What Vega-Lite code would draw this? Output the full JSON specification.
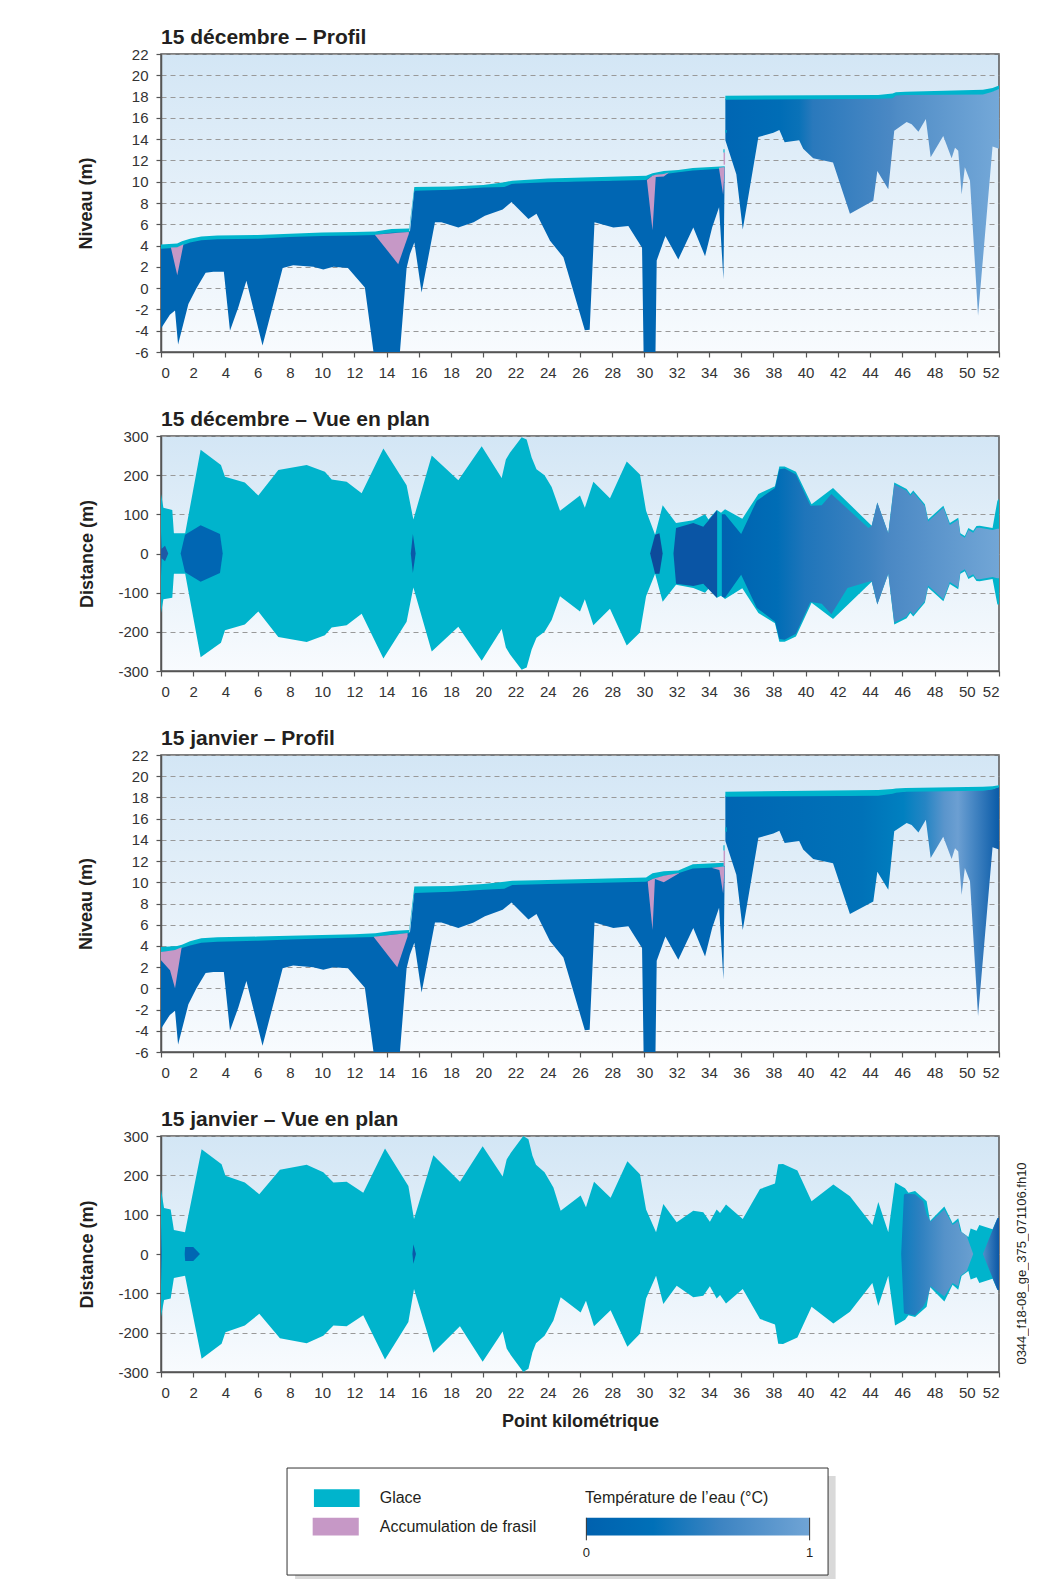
{
"$schema": "https://vega.github.io/schema/vega-lite/v6.json",
"padding": {"left": 76, "top": 26, "right": 0, "bottom": 0},
"background": "#ffffff",
"config": {
 "font": "Liberation Sans",
 "view": {"stroke": "#555555", "strokeWidth": 1.5, "fill": {"gradient": "linear", "x1": 0, "y1": 0, "x2": 0, "y2": 1, "stops": [{"offset": 0, "color": "#d3e6f5"}, {"offset": 1, "color": "#f8fbfe"}]}},
 "axis": {"labelFont": "Liberation Sans", "labelFontSize": 15, "labelColor": "#333333", "labelOverlap": false, "titleFont": "Liberation Sans", "titleFontSize": 18, "titleFontWeight": "bold", "titleColor": "#231f20", "domainColor": "#555555", "domainWidth": 1.5, "tickColor": "#555555", "tickSize": 5, "tickWidth": 1.2, "labelPadding": 8, "zindex": 1},
 "axisX": {"grid": false, "titlePadding": 12},
 "axisY": {"grid": true, "gridColor": "#999999", "gridDash": [5, 4], "gridWidth": 1},
 "title": {"anchor": "start", "frame": "group", "fontSize": 21, "fontWeight": "bold", "color": "#231f20", "offset": -1, "baseline": "alphabetic", "font": "Liberation Sans"}
},
"datasets": {
 "prof": [
  {"km":0,"bed":-3.8,"wd":3.8,"wj":3.5,"s":"A"},
  {"km":0.55,"bed":-2.5,"wd":3.85,"wj":3.6,"s":"A"},
  {"km":0.87,"bed":-2.1,"wd":3.9,"wj":3.65,"s":"A"},
  {"km":1.06,"bed":-5.3,"wd":3.95,"wj":3.75,"s":"A"},
  {"km":1.7,"bed":-1.5,"wd":4.35,"wj":4.15,"s":"A"},
  {"km":2.2,"bed":0,"wd":4.5,"wj":4.3,"s":"A"},
  {"km":2.77,"bed":1.45,"wd":4.65,"wj":4.45,"s":"A"},
  {"km":3.25,"bed":1.55,"wd":4.7,"wj":4.5,"s":"A"},
  {"km":3.9,"bed":1.55,"wd":4.7,"wj":4.55,"s":"A"},
  {"km":4.28,"bed":-4.0,"wd":4.7,"wj":4.55,"s":"A"},
  {"km":4.8,"bed":-1.8,"wd":4.7,"wj":4.6,"s":"A"},
  {"km":5.3,"bed":0.7,"wd":4.75,"wj":4.6,"s":"A"},
  {"km":6.3,"bed":-5.4,"wd":4.75,"wj":4.65,"s":"A"},
  {"km":7.55,"bed":1.9,"wd":4.85,"wj":4.7,"s":"A"},
  {"km":8.2,"bed":2.15,"wd":4.9,"wj":4.7,"s":"A"},
  {"km":9.45,"bed":2.0,"wd":5.0,"wj":4.8,"s":"A"},
  {"km":10.07,"bed":1.75,"wd":5.0,"wj":4.8,"s":"A"},
  {"km":10.7,"bed":2.0,"wd":5.05,"wj":4.85,"s":"A"},
  {"km":11.6,"bed":1.9,"wd":5.05,"wj":4.9,"s":"A"},
  {"km":12.65,"bed":0.05,"wd":5.1,"wj":4.95,"s":"A"},
  {"km":13.25,"bed":-6.7,"wd":5.1,"wj":4.95,"s":"A"},
  {"km":14.8,"bed":-6.5,"wd":5.35,"wj":5.2,"s":"A"},
  {"km":15.24,"bed":1.9,"wd":5.35,"wj":5.3,"s":"A"},
  {"km":15.45,"bed":3.2,"wd":5.35,"wj":5.3,"s":"A"},
  {"km":15.72,"bed":4.3,"wd":9.25,"wj":9.1,"s":"A"},
  {"km":16.17,"bed":-0.4,"wd":9.3,"wj":9.15,"s":"A"},
  {"km":17.0,"bed":6.2,"wd":9.3,"wj":9.15,"s":"A"},
  {"km":17.4,"bed":6.2,"wd":9.3,"wj":9.15,"s":"A"},
  {"km":18.45,"bed":5.7,"wd":9.35,"wj":9.2,"s":"A"},
  {"km":19.4,"bed":6.2,"wd":9.45,"wj":9.3,"s":"A"},
  {"km":20.1,"bed":6.8,"wd":9.55,"wj":9.4,"s":"A"},
  {"km":21.2,"bed":7.4,"wd":9.6,"wj":9.5,"s":"A"},
  {"km":21.75,"bed":8.1,"wd":9.85,"wj":9.8,"s":"A"},
  {"km":22.8,"bed":6.5,"wd":9.95,"wj":9.9,"s":"A"},
  {"km":23.3,"bed":7.0,"wd":10.0,"wj":9.9,"s":"A"},
  {"km":24.14,"bed":4.45,"wd":10.05,"wj":9.95,"s":"A"},
  {"km":24.97,"bed":2.9,"wd":10.05,"wj":9.95,"s":"A"},
  {"km":26.3,"bed":-3.95,"wd":10.1,"wj":10.0,"s":"A"},
  {"km":26.6,"bed":-3.9,"wd":10.1,"wj":10.0,"s":"A"},
  {"km":26.9,"bed":6.2,"wd":10.1,"wj":10.0,"s":"A"},
  {"km":28.07,"bed":5.7,"wd":10.15,"wj":10.05,"s":"A"},
  {"km":29.0,"bed":5.85,"wd":10.2,"wj":10.1,"s":"A"},
  {"km":29.85,"bed":3.8,"wd":10.25,"wj":10.15,"s":"A"},
  {"km":29.95,"bed":-6.5,"wd":10.25,"wj":10.15,"s":"A"},
  {"km":30.68,"bed":-6.5,"wd":10.7,"wj":10.45,"s":"A"},
  {"km":30.76,"bed":2.6,"wd":10.75,"wj":10.5,"s":"A"},
  {"km":31.3,"bed":4.9,"wd":10.85,"wj":10.75,"s":"A"},
  {"km":32.1,"bed":2.7,"wd":11.0,"wj":10.95,"s":"A"},
  {"km":33.03,"bed":5.7,"wd":11.15,"wj":11.4,"s":"A"},
  {"km":33.76,"bed":3.0,"wd":11.2,"wj":11.45,"s":"A"},
  {"km":34.2,"bed":5.7,"wd":11.25,"wj":11.5,"s":"A"},
  {"km":34.63,"bed":7.6,"wd":11.3,"wj":11.5,"s":"A"},
  {"km":34.9,"bed":0.84,"wd":11.35,"wj":11.55,"s":"A"},
  {"km":34.98,"bed":11.3,"wd":11.35,"wj":11.55,"s":"A"},
  {"km":35.02,"bed":13.9,"wd":17.8,"wj":18.15,"s":"B"},
  {"km":35.7,"bed":10.7,"wd":17.8,"wj":18.15,"s":"B"},
  {"km":36.1,"bed":5.5,"wd":17.8,"wj":18.15,"s":"B"},
  {"km":37.07,"bed":14.2,"wd":17.8,"wj":18.15,"s":"B"},
  {"km":38.0,"bed":14.6,"wd":17.8,"wj":18.15,"s":"B"},
  {"km":38.37,"bed":14.85,"wd":17.8,"wj":18.15,"s":"B"},
  {"km":38.7,"bed":13.7,"wd":17.8,"wj":18.15,"s":"B"},
  {"km":39.6,"bed":13.9,"wd":17.8,"wj":18.15,"s":"B"},
  {"km":39.85,"bed":13.1,"wd":17.8,"wj":18.15,"s":"B"},
  {"km":40.47,"bed":12.2,"wd":17.8,"wj":18.15,"s":"B"},
  {"km":41.7,"bed":11.8,"wd":17.85,"wj":18.2,"s":"B"},
  {"km":42.75,"bed":7.0,"wd":17.85,"wj":18.2,"s":"B"},
  {"km":44.2,"bed":8.2,"wd":17.9,"wj":18.25,"s":"B"},
  {"km":44.45,"bed":11.0,"wd":17.9,"wj":18.25,"s":"B"},
  {"km":45.13,"bed":9.3,"wd":17.95,"wj":18.35,"s":"B"},
  {"km":45.5,"bed":14.8,"wd":18.2,"wj":18.5,"s":"B"},
  {"km":46.27,"bed":15.6,"wd":18.25,"wj":18.6,"s":"B"},
  {"km":46.58,"bed":15.4,"wd":18.25,"wj":18.6,"s":"B"},
  {"km":47.0,"bed":14.7,"wd":18.25,"wj":18.62,"s":"B"},
  {"km":47.46,"bed":15.9,"wd":18.25,"wj":18.62,"s":"B"},
  {"km":47.76,"bed":12.3,"wd":18.25,"wj":18.63,"s":"B"},
  {"km":48.54,"bed":14.3,"wd":18.27,"wj":18.64,"s":"B"},
  {"km":49.06,"bed":12.2,"wd":18.28,"wj":18.65,"s":"B"},
  {"km":49.27,"bed":13.2,"wd":18.28,"wj":18.65,"s":"B"},
  {"km":49.47,"bed":12.9,"wd":18.28,"wj":18.65,"s":"B"},
  {"km":49.68,"bed":8.8,"wd":18.28,"wj":18.66,"s":"B"},
  {"km":49.88,"bed":11.35,"wd":18.28,"wj":18.66,"s":"B"},
  {"km":50.2,"bed":10.1,"wd":18.29,"wj":18.67,"s":"B"},
  {"km":50.7,"bed":-2.6,"wd":18.3,"wj":18.7,"s":"B"},
  {"km":51.6,"bed":13.3,"wd":18.5,"wj":18.8,"s":"B"},
  {"km":52.0,"bed":13.1,"wd":18.75,"wj":19.0,"s":"B"}
 ],
 "ice": [
  {"km":0,"dib":3.7,"dit":4.1,"jib":3.4,"jit":3.9},
  {"km":1.0,"dib":3.8,"dit":4.2,"jib":3.6,"jit":4.0},
  {"km":1.3,"dib":4.0,"dit":4.4,"jib":3.8,"jit":4.1},
  {"km":1.8,"dib":4.3,"dit":4.65,"jib":4.05,"jit":4.45},
  {"km":2.5,"dib":4.5,"dit":4.85,"jib":4.3,"jit":4.72},
  {"km":3.5,"dib":4.6,"dit":4.95,"jib":4.4,"jit":4.82},
  {"km":6.0,"dib":4.65,"dit":5.0,"jib":4.5,"jit":4.88},
  {"km":8.0,"dib":4.8,"dit":5.12,"jib":4.6,"jit":4.95},
  {"km":10.0,"dib":4.9,"dit":5.22,"jib":4.7,"jit":5.02},
  {"km":12.0,"dib":4.95,"dit":5.28,"jib":4.8,"jit":5.1},
  {"km":13.3,"dib":5.0,"dit":5.33,"jib":4.85,"jit":5.2},
  {"km":14.3,"dib":5.2,"dit":5.55,"jib":5.05,"jit":5.4},
  {"km":15.4,"dib":5.25,"dit":5.6,"jib":5.2,"jit":5.5},
  {"km":15.72,"dib":9.15,"dit":9.5,"jib":9.0,"jit":9.6},
  {"km":18.0,"dib":9.25,"dit":9.55,"jib":9.1,"jit":9.65},
  {"km":20.0,"dib":9.45,"dit":9.7,"jib":9.3,"jit":9.85},
  {"km":21.3,"dib":9.5,"dit":9.95,"jib":9.4,"jit":10.05},
  {"km":21.8,"dib":9.8,"dit":10.1,"jib":9.75,"jit":10.15},
  {"km":24.0,"dib":9.95,"dit":10.3,"jib":9.85,"jit":10.22},
  {"km":30.1,"dib":10.15,"dit":10.55,"jib":10.05,"jit":10.45},
  {"km":30.5,"dib":10.55,"dit":10.8,"jib":10.3,"jit":10.85},
  {"km":31.2,"dib":10.7,"dit":11.0,"jib":10.6,"jit":11.05},
  {"km":32.1,"dib":10.9,"dit":11.1,"jib":10.85,"jit":11.1},
  {"km":33.0,"dib":11.05,"dit":11.3,"jib":11.3,"jit":11.7},
  {"km":34.98,"dib":11.25,"dit":11.45,"jib":11.45,"jit":11.85},
  {"km":35.02,"dib":17.7,"dit":18.08,"jib":18.07,"jit":18.54},
  {"km":44.5,"dib":17.8,"dit":18.15,"jib":18.15,"jit":18.7},
  {"km":45.4,"dib":17.85,"dit":18.3,"jib":18.35,"jit":18.8},
  {"km":45.6,"dib":18.1,"dit":18.4,"jib":18.45,"jit":18.85},
  {"km":46.2,"dib":18.15,"dit":18.45,"jib":18.54,"jit":18.9},
  {"km":51.0,"dib":18.2,"dit":18.65,"jib":18.63,"jit":19.0},
  {"km":51.6,"dib":18.45,"dit":18.8,"jib":18.75,"jit":19.05},
  {"km":52.0,"dib":18.7,"dit":19.05,"jib":18.95,"jit":19.15}
 ],
 "fra": [
  {"d":"D","g":"1","km":0.62,"lo":3.78,"hi":3.82},
  {"d":"D","g":"1","km":1.01,"lo":1.2,"hi":3.85},
  {"d":"D","g":"1","km":1.39,"lo":4.1,"hi":4.12},
  {"d":"D","g":"2","km":13.28,"lo":5.0,"hi":5.02},
  {"d":"D","g":"2","km":14.72,"lo":2.25,"hi":5.2},
  {"d":"D","g":"2","km":15.38,"lo":5.1,"hi":5.27},
  {"d":"D","g":"3","km":30.15,"lo":10.15,"hi":10.17},
  {"d":"D","g":"3","km":30.5,"lo":5.45,"hi":10.55},
  {"d":"D","g":"3","km":30.7,"lo":10.45,"hi":10.65},
  {"d":"D","g":"3","km":31.2,"lo":10.5,"hi":10.72},
  {"d":"D","g":"3","km":31.5,"lo":10.85,"hi":10.87},
  {"d":"D","g":"4","km":34.62,"lo":11.3,"hi":11.32},
  {"d":"D","g":"4","km":34.88,"lo":8.8,"hi":11.35},
  {"d":"D","g":"4","km":34.97,"lo":11.2,"hi":11.36},
  {"d":"D","g":"5","km":34.91,"lo":11.6,"hi":12.75},
  {"d":"D","g":"5","km":35.0,"lo":11.6,"hi":12.75},
  {"d":"J","g":"1","km":0.0,"lo":2.65,"hi":3.42},
  {"d":"J","g":"1","km":0.56,"lo":1.7,"hi":3.55},
  {"d":"J","g":"1","km":0.87,"lo":0.0,"hi":3.62},
  {"d":"J","g":"1","km":1.28,"lo":3.85,"hi":3.88},
  {"d":"J","g":"2","km":13.2,"lo":4.85,"hi":4.87},
  {"d":"J","g":"2","km":14.66,"lo":2.0,"hi":5.1},
  {"d":"J","g":"2","km":15.3,"lo":4.9,"hi":5.22},
  {"d":"J","g":"3","km":30.2,"lo":10.05,"hi":10.07},
  {"d":"J","g":"3","km":30.5,"lo":5.5,"hi":10.3},
  {"d":"J","g":"3","km":30.65,"lo":10.3,"hi":10.37},
  {"d":"J","g":"3","km":31.2,"lo":10.0,"hi":10.62},
  {"d":"J","g":"3","km":32.15,"lo":10.85,"hi":10.88},
  {"d":"J","g":"4","km":34.2,"lo":11.35,"hi":11.37},
  {"d":"J","g":"4","km":34.65,"lo":11.15,"hi":11.45},
  {"d":"J","g":"4","km":34.88,"lo":8.95,"hi":11.5},
  {"d":"J","g":"4","km":34.97,"lo":11.4,"hi":11.5},
  {"d":"J","g":"5","km":34.91,"lo":11.55,"hi":13.0},
  {"d":"J","g":"5","km":35.0,"lo":11.55,"hi":13.0}
 ],
 "bits": [
  {"d":"D","g":"c1","km":34.9,"lo":12.75,"hi":13.05},
  {"d":"D","g":"c1","km":34.97,"lo":12.75,"hi":13.05},
  {"d":"D","g":"c2","km":35.02,"lo":14.6,"hi":14.85},
  {"d":"D","g":"c2","km":35.1,"lo":14.6,"hi":14.85},
  {"d":"J","g":"c1","km":34.9,"lo":13.0,"hi":13.5},
  {"d":"J","g":"c1","km":34.97,"lo":13.0,"hi":13.5},
  {"d":"J","g":"c2","km":35.02,"lo":14.76,"hi":15.2},
  {"d":"J","g":"c2","km":35.1,"lo":14.76,"hi":15.2}
 ],
 "pd": [
  {"km":0.0,"t":152,"b":-152},{"km":0.15,"t":117,"b":-117},{"km":0.7,"t":111,"b":-113},{"km":0.8,"t":52,"b":-52},
  {"km":1.5,"t":52,"b":-52},{"km":2.46,"t":265,"b":-265},{"km":3.72,"t":226,"b":-228},{"km":3.97,"t":196,"b":-196},
  {"km":5.2,"t":181,"b":-181},{"km":6.04,"t":148,"b":-148},{"km":7.28,"t":213,"b":-213},{"km":9.04,"t":226,"b":-226},
  {"km":10.17,"t":209,"b":-209},{"km":10.59,"t":189,"b":-189},{"km":11.52,"t":183,"b":-183},{"km":12.45,"t":154,"b":-154},
  {"km":13.8,"t":268,"b":-268},{"km":15.24,"t":174,"b":-174},{"km":15.66,"t":87,"b":-87},{"km":16.8,"t":250,"b":-250},
  {"km":18.45,"t":187,"b":-187},{"km":19.9,"t":274,"b":-274},{"km":21.14,"t":193,"b":-193},{"km":21.4,"t":240,"b":-240},
  {"km":21.65,"t":257,"b":-257},{"km":22.38,"t":297,"b":-297},{"km":22.69,"t":291,"b":-291},{"km":23.0,"t":245,"b":-245},
  {"km":23.3,"t":215,"b":-215},{"km":23.8,"t":200,"b":-200},{"km":24.24,"t":170,"b":-170},{"km":24.5,"t":140,"b":-140},
  {"km":24.76,"t":109,"b":-109},{"km":26.0,"t":148,"b":-148},{"km":26.3,"t":117,"b":-117},{"km":26.83,"t":183,"b":-183},
  {"km":27.86,"t":141,"b":-141},{"km":28.9,"t":235,"b":-235},{"km":29.72,"t":202,"b":-202},{"km":30.1,"t":109,"b":-109},
  {"km":30.66,"t":48,"b":-52},{"km":31.13,"t":123,"b":-123},{"km":31.96,"t":78,"b":-80},{"km":33.03,"t":85,"b":-88},
  {"km":33.76,"t":100,"b":-100},{"km":33.97,"t":87,"b":-90},{"km":34.49,"t":111,"b":-113},{"km":34.75,"t":104,"b":-108},
  {"km":35.0,"t":113,"b":-116},{"km":36.07,"t":89,"b":-89},{"km":37.07,"t":152,"b":-152},{"km":38.1,"t":172,"b":-178},
  {"km":38.37,"t":222,"b":-225},{"km":38.7,"t":222,"b":-225},{"km":39.4,"t":209,"b":-212},{"km":40.37,"t":126,"b":-126},
  {"km":41.7,"t":167,"b":-167},{"km":44.1,"t":71,"b":-72},{"km":44.45,"t":130,"b":-130},{"km":45.13,"t":52,"b":-52},
  {"km":45.5,"t":181,"b":-181},{"km":46.27,"t":165,"b":-165},{"km":46.5,"t":152,"b":-152},{"km":46.68,"t":161,"b":-161},
  {"km":47.4,"t":126,"b":-126},{"km":47.6,"t":87,"b":-87},{"km":48.55,"t":122,"b":-122},{"km":48.95,"t":78,"b":-78},
  {"km":49.47,"t":91,"b":-91},{"km":49.6,"t":52,"b":-52},{"km":49.88,"t":45,"b":-45},{"km":50.1,"t":65,"b":-65},
  {"km":50.4,"t":58,"b":-58},{"km":50.6,"t":70,"b":-70},{"km":50.8,"t":71,"b":-71},{"km":51.6,"t":65,"b":-65},
  {"km":51.9,"t":135,"b":-130},{"km":52.0,"t":139,"b":-130}
 ],
 "pj": [
  {"km":0.0,"t":164,"b":-160},{"km":0.19,"t":117,"b":-117},{"km":0.6,"t":113,"b":-113},{"km":0.8,"t":61,"b":-61},
  {"km":1.49,"t":55,"b":-55},{"km":2.52,"t":266,"b":-266},{"km":3.76,"t":228,"b":-228},{"km":4.0,"t":199,"b":-199},
  {"km":5.2,"t":182,"b":-182},{"km":6.1,"t":152,"b":-152},{"km":7.38,"t":214,"b":-214},{"km":9.04,"t":227,"b":-227},
  {"km":10.07,"t":208,"b":-208},{"km":10.7,"t":182,"b":-182},{"km":11.52,"t":184,"b":-184},{"km":12.55,"t":156,"b":-156},
  {"km":13.9,"t":268,"b":-268},{"km":15.35,"t":173,"b":-173},{"km":15.7,"t":89,"b":-89},{"km":16.9,"t":251,"b":-251},
  {"km":18.55,"t":184,"b":-184},{"km":19.96,"t":274,"b":-274},{"km":21.2,"t":197,"b":-197},{"km":21.45,"t":240,"b":-240},
  {"km":21.7,"t":257,"b":-257},{"km":22.48,"t":300,"b":-300},{"km":22.8,"t":292,"b":-292},{"km":23.05,"t":250,"b":-250},
  {"km":23.27,"t":227,"b":-227},{"km":23.8,"t":208,"b":-208},{"km":24.35,"t":169,"b":-169},{"km":24.8,"t":110,"b":-110},
  {"km":26.04,"t":149,"b":-149},{"km":26.37,"t":119,"b":-119},{"km":26.87,"t":184,"b":-184},{"km":27.9,"t":143,"b":-143},
  {"km":28.94,"t":236,"b":-236},{"km":29.72,"t":203,"b":-203},{"km":30.1,"t":113,"b":-113},{"km":30.72,"t":55,"b":-55},
  {"km":31.17,"t":127,"b":-127},{"km":32.0,"t":81,"b":-81},{"km":33.03,"t":110,"b":-110},{"km":33.65,"t":106,"b":-106},
  {"km":34.06,"t":82,"b":-82},{"km":34.48,"t":113,"b":-113},{"km":34.69,"t":104,"b":-104},{"km":35.06,"t":126,"b":-126},
  {"km":36.1,"t":89,"b":-89},{"km":37.17,"t":165,"b":-165},{"km":38.1,"t":179,"b":-179},{"km":38.3,"t":228,"b":-228},
  {"km":38.6,"t":229,"b":-229},{"km":39.49,"t":212,"b":-212},{"km":40.37,"t":134,"b":-134},{"km":41.72,"t":177,"b":-177},
  {"km":42.75,"t":147,"b":-147},{"km":44.14,"t":74,"b":-74},{"km":44.51,"t":132,"b":-132},{"km":45.13,"t":55,"b":-55},
  {"km":45.55,"t":182,"b":-182},{"km":46.17,"t":167,"b":-167},{"km":46.38,"t":156,"b":-156},{"km":46.79,"t":160,"b":-160},
  {"km":47.51,"t":134,"b":-134},{"km":47.72,"t":84,"b":-84},{"km":48.61,"t":121,"b":-121},{"km":49.12,"t":78,"b":-78},
  {"km":49.47,"t":91,"b":-91},{"km":49.68,"t":56,"b":-56},{"km":50.1,"t":43,"b":-43},{"km":50.24,"t":65,"b":-65},
  {"km":50.61,"t":59,"b":-59},{"km":50.78,"t":74,"b":-74},{"km":51.6,"t":63,"b":-63},{"km":51.9,"t":91,"b":-91},
  {"km":52.0,"t":92,"b":-92}
 ],
 "wpd": [
  {"g":"w1","km":0.0,"t":55,"b":-58},{"g":"w1","km":0.04,"t":12,"b":-12},{"g":"w1","km":0.25,"t":20,"b":-20},{"g":"w1","km":0.45,"t":0,"b":0},
  {"g":"w2","km":1.22,"t":0,"b":0},{"g":"w2","km":1.49,"t":48,"b":-48},{"g":"w2","km":2.46,"t":72,"b":-72},{"g":"w2","km":3.66,"t":50,"b":-50},{"g":"w2","km":3.83,"t":0,"b":0},
  {"g":"w3","km":15.5,"t":0,"b":0},{"g":"w3","km":15.63,"t":50,"b":-50},{"g":"w3","km":15.8,"t":0,"b":0},
  {"g":"w4","km":30.35,"t":0,"b":0},{"g":"w4","km":30.66,"t":48,"b":-52},{"g":"w4","km":30.93,"t":52,"b":-52},{"g":"w4","km":31.13,"t":0,"b":0},
  {"g":"w5","km":31.8,"t":0,"b":0},{"g":"w5","km":31.96,"t":65,"b":-77},{"g":"w5","km":33.03,"t":78,"b":-83},{"g":"w5","km":33.65,"t":68,"b":-77},{"g":"w5","km":34.49,"t":110,"b":-113},{"g":"w5","km":34.51,"t":110,"b":-113},
  {"g":"w6","km":34.8,"t":100,"b":-110},{"g":"w6","km":35.0,"t":100,"b":-113},{"g":"w6","km":36.0,"t":50,"b":-54},{"g":"w6","km":36.97,"t":135,"b":-139},
  {"g":"w6","km":38.1,"t":167,"b":-174},{"g":"w6","km":38.37,"t":215,"b":-218},{"g":"w6","km":38.7,"t":217,"b":-220},{"g":"w6","km":39.4,"t":202,"b":-205},
  {"g":"w6","km":40.3,"t":122,"b":-124},{"g":"w6","km":41.0,"t":123,"b":-128},{"g":"w6","km":41.6,"t":152,"b":-155},{"g":"w6","km":42.6,"t":114,"b":-88},
  {"g":"w6","km":43.9,"t":65,"b":-72},{"g":"w6","km":44.1,"t":71,"b":-71},{"g":"w6","km":44.45,"t":130,"b":-130},{"g":"w6","km":45.13,"t":52,"b":-52},
  {"g":"w6","km":45.5,"t":176,"b":-176},{"g":"w6","km":46.27,"t":160,"b":-160},{"g":"w6","km":46.5,"t":147,"b":-147},{"g":"w6","km":46.68,"t":156,"b":-156},
  {"g":"w6","km":47.4,"t":121,"b":-121},{"g":"w6","km":47.6,"t":82,"b":-82},{"g":"w6","km":48.55,"t":117,"b":-117},{"g":"w6","km":48.95,"t":73,"b":-73},
  {"g":"w6","km":49.47,"t":86,"b":-86},{"g":"w6","km":49.6,"t":47,"b":-47},{"g":"w6","km":49.88,"t":40,"b":-40},{"g":"w6","km":50.1,"t":60,"b":-60},
  {"g":"w6","km":50.4,"t":53,"b":-53},{"g":"w6","km":50.6,"t":65,"b":-65},{"g":"w6","km":50.8,"t":66,"b":-66},{"g":"w6","km":51.6,"t":60,"b":-60},
  {"g":"w6","km":51.9,"t":63,"b":-63},{"g":"w6","km":52.0,"t":63,"b":-63}
 ],
 "wpj": [
  {"g":"j1","km":0.0,"t":78,"b":-78},{"g":"j1","km":0.04,"t":8,"b":-8},
  {"g":"j2","km":1.47,"t":0,"b":0},{"g":"j2","km":1.5,"t":18,"b":-18},{"g":"j2","km":2.0,"t":18,"b":-18},{"g":"j2","km":2.42,"t":0,"b":0},
  {"g":"j3","km":15.6,"t":0,"b":0},{"g":"j3","km":15.66,"t":25,"b":-25},{"g":"j3","km":15.82,"t":0,"b":0},
  {"g":"j4","km":45.93,"t":0,"b":0},{"g":"j4","km":46.1,"t":150,"b":-150},{"g":"j4","km":46.17,"t":153,"b":-152},{"g":"j4","km":46.79,"t":152,"b":-156},
  {"g":"j4","km":47.3,"t":134,"b":-134},{"g":"j4","km":47.51,"t":100,"b":-117},{"g":"j4","km":47.76,"t":82,"b":-82},{"g":"j4","km":48.61,"t":113,"b":-108},
  {"g":"j4","km":49.12,"t":74,"b":-74},{"g":"j4","km":49.47,"t":84,"b":-82},{"g":"j4","km":49.6,"t":58,"b":-56},{"g":"j4","km":50.0,"t":46,"b":-43},
  {"g":"j4","km":50.4,"t":0,"b":0},
  {"g":"j5","km":51.0,"t":0,"b":0},{"g":"j5","km":51.9,"t":91,"b":-91},{"g":"j5","km":52.0,"t":92,"b":-92}
 ]
},
"bounds": "flush",
"spacing": 84,
"vconcat": [
 {
  "width": 838, "height": 298,
  "title": {"text": "15 décembre – Profil"},
  "resolve": {"axis": {"x": "independent", "y": "independent"}},
  "layer": [
   {"data": {"name": "prof"}, "transform": [{"filter": "datum.s === 'A'"}],
    "mark": {"type": "area", "orient": "vertical", "clip": true, "color": "#0066b3"},
    "encoding": {
     "x": {"field": "km", "type": "quantitative", "scale": {"domain": [0, 52], "nice": false, "zero": false}, "axis": {"values": [0,2,4,6,8,10,12,14,16,18,20,22,24,26,28,30,32,34,36,38,40,42,44,46,48,50,52], "labelExpr": "'' + datum.value", "labelOverlap": false, "title": null}},
     "y": {"field": "bed", "type": "quantitative", "scale": {"domain": [-6, 22], "nice": false, "zero": false}, "axis": {"values": [-6,-4,-2,0,2,4,6,8,10,12,14,16,18,20,22], "labelExpr": "'' + datum.value", "labelOverlap": false, "titlePadding": 36, "title": "Niveau (m)"}},
     "y2": {"field": "wd"}}},
   {"data": {"name": "prof"}, "transform": [{"filter": "datum.s === 'B'"}],
    "mark": {"type": "area", "orient": "vertical", "clip": true, "color": {"gradient": "linear", "x1": 0, "y1": 0, "x2": 1, "y2": 0, "stops": [{"offset": 0, "color": "#0066b3"}, {"offset": 0.2, "color": "#006db6"}, {"offset": 0.27, "color": "#0a72b8"}, {"offset": 0.32, "color": "#2a79bc"}, {"offset": 0.6, "color": "#4a88c4"}, {"offset": 0.63, "color": "#4f8cc6"}, {"offset": 1, "color": "#74a8d8"}]}},
    "encoding": {"x": {"field": "km", "type": "quantitative", "axis": null}, "y": {"field": "bed", "type": "quantitative", "axis": null}, "y2": {"field": "wd"}}},
   {"data": {"name": "ice"},
    "mark": {"type": "area", "orient": "vertical", "color": "#00b4cc"},
    "encoding": {"x": {"field": "km", "type": "quantitative", "axis": null}, "y": {"field": "dib", "type": "quantitative", "axis": null}, "y2": {"field": "dit"}}},
   {"data": {"name": "fra"}, "transform": [{"filter": "datum.d === 'D'"}],
    "mark": {"type": "area", "orient": "vertical", "color": "#c698c6"},
    "encoding": {"x": {"field": "km", "type": "quantitative", "axis": null}, "y": {"field": "lo", "type": "quantitative", "axis": null}, "y2": {"field": "hi"}, "detail": {"field": "g"}}},
   {"data": {"name": "bits"}, "transform": [{"filter": "datum.d === 'D'"}],
    "mark": {"type": "area", "orient": "vertical", "color": "#00b4cc"},
    "encoding": {"x": {"field": "km", "type": "quantitative", "axis": null}, "y": {"field": "lo", "type": "quantitative", "axis": null}, "y2": {"field": "hi"}, "detail": {"field": "g"}}}
  ]
 },
 {
  "width": 838, "height": 235,
  "title": {"text": "15 décembre – Vue en plan"},
  "resolve": {"axis": {"x": "independent", "y": "independent"}},
  "layer": [
   {"data": {"name": "pd"},
    "mark": {"type": "area", "orient": "vertical", "color": "#00b4cc"},
    "encoding": {
     "x": {"field": "km", "type": "quantitative", "scale": {"domain": [0, 52], "nice": false, "zero": false}, "axis": {"values": [0,2,4,6,8,10,12,14,16,18,20,22,24,26,28,30,32,34,36,38,40,42,44,46,48,50,52], "labelExpr": "'' + datum.value", "labelOverlap": false, "title": null}},
     "y": {"field": "b", "type": "quantitative", "scale": {"domain": [-300, 300], "nice": false, "zero": false}, "axis": {"values": [-300,-200,-100,0,100,200,300], "labelExpr": "'' + datum.value", "labelOverlap": false, "titlePadding": 21, "title": "Distance (m)"}},
     "y2": {"field": "t"}}},
   {"data": {"name": "wpd"}, "transform": [{"filter": "datum.g !== 'w6'"}],
    "mark": {"type": "area", "orient": "vertical"},
    "encoding": {"x": {"field": "km", "type": "quantitative", "axis": null}, "y": {"field": "b", "type": "quantitative", "axis": null}, "y2": {"field": "t"},
     "color": {"field": "g", "type": "nominal", "scale": {"domain": ["w1","w2","w3","w4","w5"], "range": ["#1f5aa6","#0066b3","#0b58a8","#0d4b9b","#0a55a5"]}, "legend": null}}},
   {"data": {"name": "wpd"}, "transform": [{"filter": "datum.g === 'w6'"}],
    "mark": {"type": "area", "orient": "vertical", "color": {"gradient": "linear", "x1": 0, "y1": 0, "x2": 1, "y2": 0, "stops": [{"offset": 0, "color": "#0062b0"}, {"offset": 0.2, "color": "#006db6"}, {"offset": 0.3, "color": "#1f75ba"}, {"offset": 0.53, "color": "#3d82c0"}, {"offset": 0.6, "color": "#4a88c4"}, {"offset": 1, "color": "#72a6d6"}]}},
    "encoding": {"x": {"field": "km", "type": "quantitative", "axis": null}, "y": {"field": "b", "type": "quantitative", "axis": null}, "y2": {"field": "t"}}}
  ]
 },
 {
  "width": 838, "height": 297,
  "title": {"text": "15 janvier – Profil"},
  "resolve": {"axis": {"x": "independent", "y": "independent"}},
  "layer": [
   {"data": {"name": "prof"}, "transform": [{"filter": "datum.s === 'A'"}],
    "mark": {"type": "area", "orient": "vertical", "clip": true, "color": "#0066b3"},
    "encoding": {
     "x": {"field": "km", "type": "quantitative", "scale": {"domain": [0, 52], "nice": false, "zero": false}, "axis": {"values": [0,2,4,6,8,10,12,14,16,18,20,22,24,26,28,30,32,34,36,38,40,42,44,46,48,50,52], "labelExpr": "'' + datum.value", "labelOverlap": false, "title": null}},
     "y": {"field": "bed", "type": "quantitative", "scale": {"domain": [-6, 22], "nice": false, "zero": false}, "axis": {"values": [-6,-4,-2,0,2,4,6,8,10,12,14,16,18,20,22], "labelExpr": "'' + datum.value", "labelOverlap": false, "titlePadding": 36, "title": "Niveau (m)"}},
     "y2": {"field": "wj"}}},
   {"data": {"name": "prof"}, "transform": [{"filter": "datum.s === 'B'"}],
    "mark": {"type": "area", "orient": "vertical", "clip": true, "color": {"gradient": "linear", "x1": 0, "y1": 0, "x2": 1, "y2": 0, "stops": [{"offset": 0, "color": "#0066b3"}, {"offset": 0.5, "color": "#0072b8"}, {"offset": 0.65, "color": "#0080c0"}, {"offset": 0.73, "color": "#2585c4"}, {"offset": 0.8, "color": "#5a95cc"}, {"offset": 0.85, "color": "#6c9fd2"}, {"offset": 0.9, "color": "#4a89c5"}, {"offset": 1, "color": "#0a5ba8"}]}},
    "encoding": {"x": {"field": "km", "type": "quantitative", "axis": null}, "y": {"field": "bed", "type": "quantitative", "axis": null}, "y2": {"field": "wj"}}},
   {"data": {"name": "ice"},
    "mark": {"type": "area", "orient": "vertical", "color": "#00b4cc"},
    "encoding": {"x": {"field": "km", "type": "quantitative", "axis": null}, "y": {"field": "jib", "type": "quantitative", "axis": null}, "y2": {"field": "jit"}}},
   {"data": {"name": "fra"}, "transform": [{"filter": "datum.d === 'J'"}],
    "mark": {"type": "area", "orient": "vertical", "color": "#c698c6"},
    "encoding": {"x": {"field": "km", "type": "quantitative", "axis": null}, "y": {"field": "lo", "type": "quantitative", "axis": null}, "y2": {"field": "hi"}, "detail": {"field": "g"}}},
   {"data": {"name": "bits"}, "transform": [{"filter": "datum.d === 'J'"}],
    "mark": {"type": "area", "orient": "vertical", "color": "#00b4cc"},
    "encoding": {"x": {"field": "km", "type": "quantitative", "axis": null}, "y": {"field": "lo", "type": "quantitative", "axis": null}, "y2": {"field": "hi"}, "detail": {"field": "g"}}}
  ]
 },
 {
  "width": 838, "height": 236,
  "title": {"text": "15 janvier – Vue en plan"},
  "resolve": {"axis": {"x": "independent", "y": "independent"}},
  "layer": [
   {"data": {"name": "pj"},
    "mark": {"type": "area", "orient": "vertical", "color": "#00b4cc"},
    "encoding": {
     "x": {"field": "km", "type": "quantitative", "scale": {"domain": [0, 52], "nice": false, "zero": false}, "axis": {"values": [0,2,4,6,8,10,12,14,16,18,20,22,24,26,28,30,32,34,36,38,40,42,44,46,48,50,52], "labelExpr": "'' + datum.value", "labelOverlap": false, "title": "Point kilométrique"}},
     "y": {"field": "b", "type": "quantitative", "scale": {"domain": [-300, 300], "nice": false, "zero": false}, "axis": {"values": [-300,-200,-100,0,100,200,300], "labelExpr": "'' + datum.value", "labelOverlap": false, "titlePadding": 21, "title": "Distance (m)"}},
     "y2": {"field": "t"}}},
   {"data": {"name": "wpj"}, "transform": [{"filter": "datum.g === 'j1' || datum.g === 'j2' || datum.g === 'j3'"}],
    "mark": {"type": "area", "orient": "vertical"},
    "encoding": {"x": {"field": "km", "type": "quantitative", "axis": null},
     "y": {"field": "b", "type": "quantitative", "axis": {"orient": "right", "title": "0344_f18-08_ge_375_071106.fh10", "labels": false, "ticks": false, "domain": false, "grid": false, "titleAngle": 270, "titleFontSize": 13, "titleFontWeight": "normal", "titleColor": "#231f20", "titlePadding": 29, "titleY": 127}},
     "y2": {"field": "t"},
     "color": {"field": "g", "type": "nominal", "scale": {"domain": ["j1","j2","j3"], "range": ["#1a4f9f","#0066b3","#1e5ca8"]}, "legend": null}}},
   {"data": {"name": "wpj"}, "transform": [{"filter": "datum.g === 'j4'"}],
    "mark": {"type": "area", "orient": "vertical", "color": {"gradient": "linear", "x1": 0, "y1": 0, "x2": 1, "y2": 0, "stops": [{"offset": 0, "color": "#0b7dbf"}, {"offset": 0.25, "color": "#2c80c0"}, {"offset": 0.6, "color": "#5592c9"}, {"offset": 1, "color": "#6a9fd0"}]}},
    "encoding": {"x": {"field": "km", "type": "quantitative", "axis": null}, "y": {"field": "b", "type": "quantitative", "axis": null}, "y2": {"field": "t"}}},
   {"data": {"name": "wpj"}, "transform": [{"filter": "datum.g === 'j5'"}],
    "mark": {"type": "area", "orient": "vertical", "color": {"gradient": "linear", "x1": 0, "y1": 0, "x2": 1, "y2": 0, "stops": [{"offset": 0, "color": "#4f8fc8"}, {"offset": 1, "color": "#0b57a6"}]}},
    "encoding": {"x": {"field": "km", "type": "quantitative", "axis": null}, "y": {"field": "b", "type": "quantitative", "axis": null}, "y2": {"field": "t"}}}
  ]
 },
 {
  "width": 838, "height": 124,
  "view": {"stroke": null, "fill": null},
  "data": {"values": [{}]},
  "layer": [
   {"mark": {"type": "rect", "color": "#d9d9d9"},
    "encoding": {"x": {"datum": 16.0, "type": "quantitative", "scale": {"domain": [0, 100], "nice": false}, "axis": null}, "x2": {"datum": 80.5},
     "y": {"datum": 83.9, "type": "quantitative", "scale": {"domain": [0, 100], "nice": false}, "axis": null}, "y2": {"datum": 0.8}}},
   {"mark": {"type": "rect", "fill": "#ffffff", "stroke": "#333333", "strokeWidth": 1},
    "encoding": {"x": {"datum": 15.04, "type": "quantitative"}, "x2": {"datum": 79.6}, "y": {"datum": 90.3, "type": "quantitative"}, "y2": {"datum": 4.0}}},
   {"mark": {"type": "rect", "color": "#00b4cc"},
    "encoding": {"x": {"datum": 18.25, "type": "quantitative"}, "x2": {"datum": 23.7}, "y": {"datum": 73.2, "type": "quantitative"}, "y2": {"datum": 58.8}}},
   {"mark": {"type": "rect", "color": "#c698c6"},
    "encoding": {"x": {"datum": 18.1, "type": "quantitative"}, "x2": {"datum": 23.6}, "y": {"datum": 50.2, "type": "quantitative"}, "y2": {"datum": 35.8}}},
   {"mark": {"type": "rect", "color": {"gradient": "linear", "x1": 0, "y1": 0, "x2": 1, "y2": 0, "stops": [{"offset": 0, "color": "#0061ae"}, {"offset": 0.3, "color": "#0070b8"}, {"offset": 0.6, "color": "#3d84c2"}, {"offset": 1, "color": "#70a4d5"}]}},
    "encoding": {"x": {"datum": 50.76, "type": "quantitative"}, "x2": {"datum": 77.4}, "y": {"datum": 50.2, "type": "quantitative"}, "y2": {"datum": 35.8}}},
   {"mark": {"type": "rule", "color": "#333333", "strokeWidth": 1},
    "encoding": {"x": {"datum": 50.76, "type": "quantitative"}, "y": {"datum": 50.2, "type": "quantitative"}, "y2": {"datum": 32.0}}},
   {"mark": {"type": "rule", "color": "#333333", "strokeWidth": 1},
    "encoding": {"x": {"datum": 77.4, "type": "quantitative"}, "y": {"datum": 50.2, "type": "quantitative"}, "y2": {"datum": 32.0}}},
   {"mark": {"type": "text", "align": "left", "baseline": "middle", "fontSize": 16, "color": "#231f20", "font": "Liberation Sans"},
    "encoding": {"x": {"datum": 26.1, "type": "quantitative"}, "y": {"datum": 66.0, "type": "quantitative"}, "text": {"value": "Glace"}}},
   {"mark": {"type": "text", "align": "left", "baseline": "middle", "fontSize": 16, "color": "#231f20", "font": "Liberation Sans"},
    "encoding": {"x": {"datum": 26.1, "type": "quantitative"}, "y": {"datum": 43.0, "type": "quantitative"}, "text": {"value": "Accumulation de frasil"}}},
   {"mark": {"type": "text", "align": "left", "baseline": "middle", "fontSize": 16, "color": "#231f20", "font": "Liberation Sans"},
    "encoding": {"x": {"datum": 50.6, "type": "quantitative"}, "y": {"datum": 66.0, "type": "quantitative"}, "text": {"value": "Température de l’eau (°C)"}}},
   {"mark": {"type": "text", "align": "center", "baseline": "middle", "fontSize": 13, "color": "#231f20", "font": "Liberation Sans"},
    "encoding": {"x": {"datum": 50.76, "type": "quantitative"}, "y": {"datum": 21.4, "type": "quantitative"}, "text": {"value": "0"}}},
   {"mark": {"type": "text", "align": "center", "baseline": "middle", "fontSize": 13, "color": "#231f20", "font": "Liberation Sans"},
    "encoding": {"x": {"datum": 77.4, "type": "quantitative"}, "y": {"datum": 21.4, "type": "quantitative"}, "text": {"value": "1"}}}
  ]
 }
]
}
